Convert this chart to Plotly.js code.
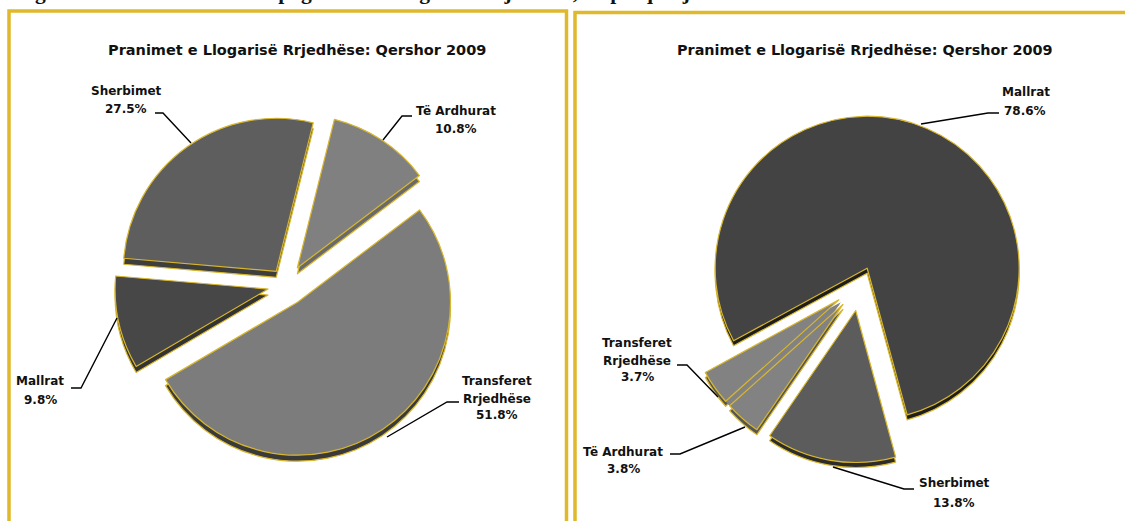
<!DOCTYPE html>
<html><head><meta charset="utf-8"><script src="https://cdn.plot.ly/plotly-3.0.1.min.js"></script>
<style>html,body{margin:0;padding:0;background:#fff;overflow:hidden}</style></head><body><div id="c" style="width:1125px;height:521px"></div>
<script>
const W=1125,H=521;
const chartTitle='Pranimet e Llogarisë Rrjedhëse: Qershor 2009';
const headingLead='Figura 4.4';
const headingText='Pranimet e pagesave të Llogarisë Rrjedhëse, në përqindje';
const leftLabels=['Të Ardhurat','Transferet Rrjedhëse','Mallrat','Sherbimet'];
const leftValues=[10.8,51.8,9.8,27.5];
const leftColors=['#808080','#7c7c7c','#474747','#5e5e5e'];
const leftDepth=['#6a6a6a','#3a3a3a','#333333','#3e3e3e'];
const rightLabels=['Mallrat','Sherbimet','Të Ardhurat','Transferet Rrjedhëse'];
const rightValues=[78.6,13.8,3.8,3.7];
const rightColors=['#434343','#5c5c5c','#828282','#828282'];
const rightDepth=['#1e1e1e','#2c2c2c','#555555','#555555'];
const gold='#d8b72e';
function px(x0,x1){return [x0/W,x1/W];}
function py(y0,y1){return [1-y1/H,1-y0/H];}
function pie(labels,values,colors,rotation,pull,cx,cy,r,maxPull,dy,lineColor,lw){
  const half=r*(1+maxPull);
  return {type:'pie',labels,values,sort:false,direction:'clockwise',rotation,pull,
    textinfo:'none',hoverinfo:'skip',showlegend:false,
    marker:{colors,line:{color:lineColor,width:lw}},
    domain:{x:px(cx-half,cx+half),y:py(cy-half+dy,cy+half+dy)}};
}
const lP=[.135,.135,.12,.11], rP=[.12,.17,.17,.17];
const none='rgba(0,0,0,0)';
const L=[286,285,153,.135], R=[860,285,152,.17];
const data=[
  pie(leftLabels,leftValues,leftDepth,14,lP,...L,6,gold,1.2),
  pie(leftLabels,leftValues,leftColors,14,lP,...L,0,gold,1.2),
  pie(rightLabels,rightValues,rightDepth,241.5,rP,...R,5,gold,1.2),
  // filler: the two thin slices read as one wedge in the reference
  pie(['Mallrat','Sherbimet','Të Ardhurat + Transferet'],[rightValues[0],rightValues[1],rightValues[2]+rightValues[3]],[none,none,'#828282'],241.5,[.12,.17,.17],...R,0,none,0),
  pie(rightLabels,rightValues,[rightColors[0],rightColors[1],'#828282','#828282'],241.5,rP,...R,0,gold,1.2)
];
function ann(text,x,y,size){return {text,x:x/W,y:1-y/H,xref:'paper',yref:'paper',xanchor:'center',yanchor:'middle',showarrow:false,align:'center',
  font:{family:'DejaVu Sans, sans-serif',size:size||12,color:'#111',weight:'bold'}};}
function head(text,x){return {text,x:x/W,y:1-6/H,xref:'paper',yref:'paper',xanchor:'left',yanchor:'bottom',showarrow:false,
   font:{family:'Liberation Serif, serif',size:21.5,color:'#111',weight:'bold'}};}
const annotations=[
  ann(chartTitle,297,50,14.5),ann(chartTitle,865,50,14.4),
  ann('Sherbimet',126,91),ann('27.5%',126,109),
  ann('Të Ardhurat',456,111),ann('10.8%',456,129),
  ann('Mallrat',40,381),ann('9.8%',40,400),
  ann('Transferet',497,381),ann('Rrjedhëse',497,399),ann('51.8%',497,415),
  ann('Mallrat',1026,92),ann('78.6%',1025,111),
  ann('Transferet',637,343),ann('Rrjedhëse',637,361),ann('3.7%',637,377),
  ann('Të Ardhurat',623,452),ann('3.8%',623,469),
  ann('Sherbimet',954,483),ann('13.8%',954,503),
  head(headingLead,14),head(headingText,170)
];
function line(d){return {type:'path',path:d,xref:'paper',yref:'paper',line:{color:'#000',width:1.4},layer:'above'};}
function P(pts){return pts.map((p,i)=>(i?'L':'M')+(p[0]/W)+','+(1-p[1]/H)).join(' ');}
function frame(x0,y0,x1,y1){return {type:'rect',xref:'paper',yref:'paper',x0:x0/W,x1:x1/W,y0:1-y1/H,y1:1-y0/H,line:{color:'#dfb92b',width:3.5},fillcolor:none,layer:'below'};}
const shapes=[
  frame(9,11,566.5,530),frame(575,12.5,1140,530),
  line(P([[155,113],[163,113],[191,143]])),
  line(P([[412,116],[402,116],[383,140]])),
  line(P([[71,388],[81,388],[117,318]])),
  line(P([[459,402],[447,402],[387,437]])),
  line(P([[999,113],[988,113],[921,124]])),
  line(P([[677,365],[687,365],[718,397]])),
  line(P([[670,454],[680,454],[745,427]])),
  line(P([[914,489],[904,489],[833,467]]))
];
Plotly.newPlot('c',data,{width:W,height:H,margin:{l:0,r:0,t:0,b:0},paper_bgcolor:'#fff',shapes,annotations},{staticPlot:true,displayModeBar:false});
</script></body></html>
